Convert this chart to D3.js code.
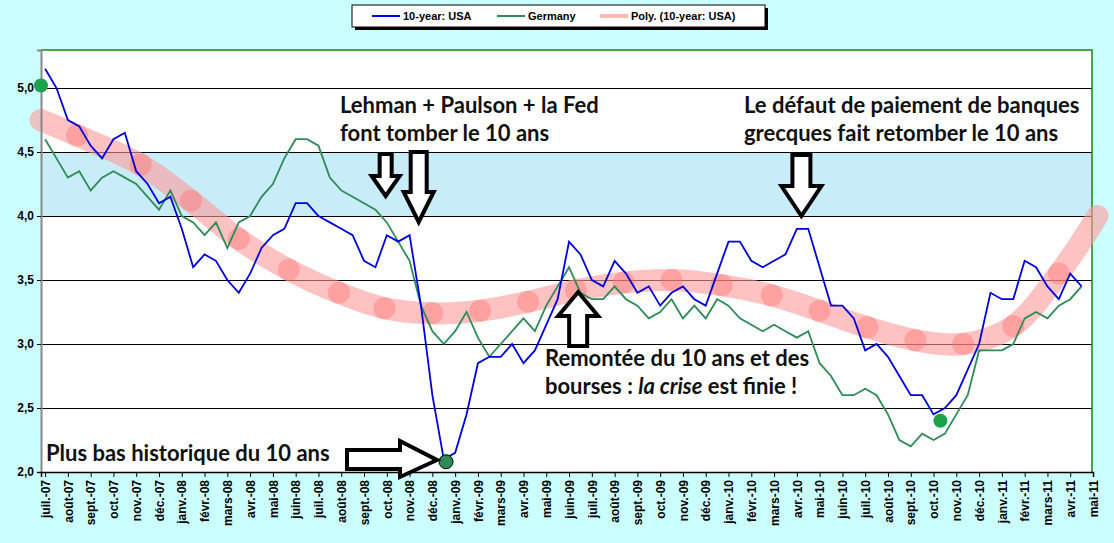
<!DOCTYPE html>
<html>
<head>
<meta charset="utf-8">
<script src="https://cdn.jsdelivr.net/npm/d3@7"></script>
<style>
body { margin: 0; background: #ccffff; }
svg { display: block; }
.tick text { font-family: Arial, "Liberation Sans", sans-serif; font-weight: bold; font-size: 12px; fill: #000; }
.note { font-family: Lato, "Open Sans", sans-serif; font-weight: bold; font-size: 22px; fill: #111; }
</style>
</head>
<body>
<div id="chart"></div>
<script>
// valeurs, deux points par mois (1er et 16)
const usa = [5.15, 5.0, 4.75, 4.7, 4.55, 4.45, 4.6, 4.65, 4.35, 4.25, 4.1, 4.15,
  3.9, 3.6, 3.7, 3.65, 3.5, 3.4, 3.55, 3.75, 3.85, 3.9, 4.1, 4.1,
  4.0, 3.95, 3.9, 3.85, 3.65, 3.6, 3.85, 3.8, 3.85, 3.3, 2.6, 2.1,
  2.15, 2.45, 2.85, 2.9, 2.9, 3.0, 2.85, 2.95, 3.15, 3.35, 3.8, 3.7,
  3.5, 3.45, 3.65, 3.55, 3.4, 3.45, 3.3, 3.4, 3.45, 3.35, 3.3, 3.55,
  3.8, 3.8, 3.65, 3.6, 3.65, 3.7, 3.9, 3.9, 3.6, 3.3, 3.3, 3.2,
  2.95, 3.0, 2.9, 2.75, 2.6, 2.6, 2.45, 2.5, 2.6, 2.8, 3.0, 3.4,
  3.35, 3.35, 3.65, 3.6, 3.45, 3.35, 3.55, 3.45];
const germany = [4.6, 4.45, 4.3, 4.35, 4.2, 4.3, 4.35, 4.3, 4.25, 4.15, 4.05, 4.2,
  4.0, 3.95, 3.85, 3.95, 3.75, 3.95, 4.0, 4.15, 4.25, 4.45, 4.6, 4.6,
  4.55, 4.3, 4.2, 4.15, 4.1, 4.05, 3.95, 3.8, 3.65, 3.3, 3.1, 3.0,
  3.1, 3.25, 3.05, 2.9, 3.0, 3.1, 3.2, 3.1, 3.3, 3.45, 3.6, 3.4,
  3.35, 3.35, 3.45, 3.35, 3.3, 3.2, 3.25, 3.35, 3.2, 3.3, 3.2, 3.35,
  3.3, 3.2, 3.15, 3.1, 3.15, 3.1, 3.05, 3.1, 2.85, 2.75, 2.6, 2.6,
  2.65, 2.6, 2.45, 2.25, 2.2, 2.3, 2.25, 2.3, 2.45, 2.6, 2.95, 2.95,
  2.95, 3.0, 3.2, 3.25, 3.2, 3.3, 3.35, 3.45];
// tendance polynomiale : mois depuis juil.-07, valeur
const polyMonths = [-0.2, 1.4, 4.2, 6.4, 8.5, 10.7, 12.9, 14.9, 17, 19.1, 21.2, 23.3, 25.4, 27.5, 29.7, 31.9, 34, 36.1, 38.2, 40.3, 42.5, 44.5, 46.2];
const polyValues = [4.75, 4.63, 4.4, 4.12, 3.82, 3.58, 3.4, 3.28, 3.24, 3.26, 3.33, 3.42, 3.48, 3.5, 3.46, 3.38, 3.26, 3.13, 3.03, 3.0, 3.14, 3.55, 4.0];
const yTicks = [2.0, 2.5, 3.0, 3.5, 4.0, 4.5, 5.0];
const monthNames = ["janv.", "févr.", "mars", "avr.", "mai", "juin", "juil.", "août", "sept.", "oct.", "nov.", "déc."];
const dots = [[-0.18, 5.02, "#1aa34a"], [17.6, 2.08, "#2e8b57"], [39.3, 2.4, "#1aa34a"]];

const W = 1114, H = 543;
const margin = { top: 50, right: 22, bottom: 71, left: 41 };

const svg = d3.select("#chart").append("svg").attr("width", W).attr("height", H);

const x = d3.scaleLinear().domain([-0.18, 46]).range([margin.left, 1093]);
const y = d3.scaleLinear().domain([2, 5.297]).range([H - margin.bottom, margin.top]);
const right = W - margin.right;

// fond du graphique
svg.append("rect").attr("x", margin.left).attr("y", margin.top)
  .attr("width", right - margin.left).attr("height", y(2) - margin.top).attr("fill", "#fff");
svg.append("rect").attr("x", margin.left).attr("y", y(4.5))
  .attr("width", right - margin.left).attr("height", y(4) - y(4.5)).attr("fill", "#c8ecf8");

svg.append("g").selectAll("line").data(yTicks.slice(1)).join("line")
  .attr("x1", margin.left).attr("x2", right)
  .attr("y1", d => Math.round(y(d)) + 0.5).attr("y2", d => Math.round(y(d)) + 0.5)
  .attr("stroke", "#000").attr("stroke-width", 1);

svg.append("path").attr("fill", "none").attr("stroke", "#118811").attr("stroke-width", 1.5)
  .attr("d", `M${margin.left},${margin.top}H${right}V${y(2)}`);

// tendance
const pts = polyMonths.map((m, i) => [m, polyValues[i]]);
svg.append("path").datum(pts)
  .attr("fill", "none").attr("stroke", "#ff9a9a").attr("stroke-opacity", 0.6)
  .attr("stroke-width", 22).attr("stroke-linecap", "round")
  .attr("d", d3.line().x(d => x(d[0])).y(d => y(d[1])).curve(d3.curveCatmullRom));
svg.append("g").selectAll("circle").data(pts.slice(1, -1)).join("circle")
  .attr("cx", d => x(d[0])).attr("cy", d => y(d[1])).attr("r", 11)
  .attr("fill", "#ff7070").attr("fill-opacity", 0.4);

const line = d3.line().x((d, i) => x(i / 2)).y(d => y(d));
svg.append("path").datum(germany).attr("fill", "none").attr("stroke", "#2e8b57")
  .attr("stroke-width", 1.8).attr("d", line);
svg.append("path").datum(usa).attr("fill", "none").attr("stroke", "#0000dd")
  .attr("stroke-width", 1.8).attr("d", line);

// axes
const yAxis = d3.axisLeft(y).tickValues(yTicks).tickFormat(d => d3.format(".1f")(d).replace(".", ","))
  .tickSize(4);
svg.append("g").attr("transform", `translate(${margin.left},0)`).call(yAxis)
  .call(g => g.select(".domain").attr("stroke", "#888").attr("stroke-width", 2));

const months = d3.range(0, 47);
const xAxis = d3.axisBottom(x).tickValues(months).tickSize(5)
  .tickFormat(m => monthNames[(m + 6) % 12] + "-" + String(7 + Math.floor((m + 6) / 12)).padStart(2, "0"));
svg.append("g").attr("transform", `translate(0,${y(2)})`).call(xAxis)
  .call(g => g.select(".domain").attr("stroke", "#000").attr("stroke-width", 1.5))
  .call(g => g.selectAll(".tick text").attr("transform", "rotate(-90)")
    .attr("x", -8).attr("y", 0).attr("dy", "0.35em").style("text-anchor", "end"));

// points remarquables
svg.append("g").selectAll("circle").data(dots).join("circle")
  .attr("cx", d => x(d[0])).attr("cy", d => y(d[1])).attr("r", 7)
  .attr("fill", d => d[2]).attr("stroke", (d, i) => i === 1 ? "#000" : "none");

// flèches
function arrowDown(cx, top, bottom, shaft, head, headLen) {
  return `M${cx - shaft / 2},${top}H${cx + shaft / 2}V${bottom - headLen}H${cx + head / 2}L${cx},${bottom}L${cx - head / 2},${bottom - headLen}H${cx - shaft / 2}Z`;
}
const arrows = svg.append("g").attr("fill", "#fff").attr("stroke", "#000").attr("stroke-width", 4);
arrows.append("path").attr("d", arrowDown(x(14.95), 154, 196, 12, 28, 20));
arrows.append("path").attr("d", arrowDown(x(16.4), 152, 222, 16, 30, 30));
arrows.append("path").attr("d", arrowDown(x(33.2), 155, 216, 18, 40, 30));
arrows.append("path").attr("d", arrowDown(x(23.4), 346, 292, 18, 40, -24));
arrows.append("path").attr("d", `M347,450H400V441L437,460L400,477V469H347Z`);

// textes
const notes = [
  [340, 113, "Lehman + Paulson + la Fed"], [340, 141, "font tomber le 10 ans"],
  [744, 113, "Le défaut de paiement de banques"], [744, 141, "grecques fait retomber le 10 ans"],
  [545, 366, "Remontée du 10 ans et des"], [46, 461, "Plus bas historique du 10 ans"]
];
svg.selectAll("text.note").data(notes).join("text").attr("class", "note")
  .attr("x", d => d[0]).attr("y", d => d[1]).text(d => d[2]);
const t = svg.append("text").attr("class", "note").attr("x", 545).attr("y", 394);
t.append("tspan").text("bourses : ");
t.append("tspan").style("font-style", "italic").text("la crise");
t.append("tspan").text(" est finie !");

// légende
const lg = svg.append("g");
lg.append("rect").attr("x", 355).attr("y", 8).attr("width", 413).attr("height", 22).attr("fill", "#000");
lg.append("rect").attr("x", 352).attr("y", 5).attr("width", 413).attr("height", 22)
  .attr("fill", "#fff").attr("stroke", "#000");
const items = [["10-year: USA", "#0000ee", 2, 372], ["Germany", "#2e8b57", 2, 497], ["Poly. (10-year: USA)", "#ffb8b8", 4, 600]];
items.forEach(([name, c, w, lx]) => {
  lg.append("line").attr("x1", lx).attr("x2", lx + 28).attr("y1", 16).attr("y2", 16)
    .attr("stroke", c).attr("stroke-width", w);
  lg.append("text").attr("x", lx + 31).attr("y", 20).text(name)
    .style("font-family", "Arial, sans-serif").style("font-weight", "bold").style("font-size", "11px");
});
</script>
</body>
</html>
